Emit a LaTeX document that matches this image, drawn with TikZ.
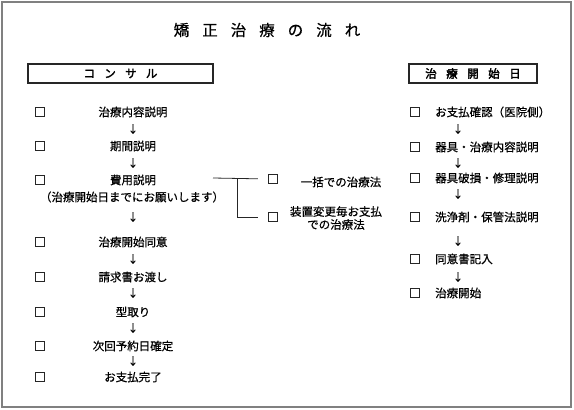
\documentclass[tikz,border=0pt]{standalone}
\usepackage{fontspec}
\setmainfont{Noto Sans CJK JP}[FakeBold=0.6,AutoFakeBold=2.5]
\begin{document}
\begin{tikzpicture}[x=1pt,y=-1pt,
    item/.style={inner sep=0pt,font=\fontsize{11.5}{13}\selectfont},
    arr/.style={inner sep=0pt,font=\fontsize{10.5}{12}\selectfont},
    chk/.style={draw=black!85,line width=1.2pt,inner sep=0pt,minimum size=9pt},
    head/.style={draw=black!85,line width=1.2pt,inner sep=0pt,minimum height=19pt,
        font=\bfseries\fontsize{11.5}{13}\selectfont},
    wire/.style={draw=black!85,line width=0.8pt}]
    \useasboundingbox (0,0) rectangle (574,410);
    \draw[gray,line width=2pt] (2,2) rectangle (571,407);

    % title and headings
    \node[inner sep=0pt,font=\fontsize{15.5}{17}\selectfont] (title) at (267,30)
        {矯\kern13pt 正\kern13pt 治\kern13pt 療\kern13pt の\kern13pt 流\kern13pt れ};
    \node[head,minimum width=185pt] (consult) at (120.5,73.5)
        {コ\kern9.3pt ン\kern9.3pt サ\kern9.3pt ル};
    \node[head,minimum width=128pt] (startday) at (473,73.5)
        {治\kern9.5pt 療\kern9.5pt 開\kern9.5pt 始\kern9.5pt 日};

    % consultation steps
    \foreach \y/\t [count=\i] in {112/治療内容説明,146/期間説明,180/費用説明,
        242/治療開始同意,277/請求書お渡し,312/型取り,346/次回予約日確定,377/お支払完了}{
        \node[chk] (lc\i) at (40,\y) {};
        \node[item] (l\i) at (133,\y) {\t};
    }
    \node[item] (note) at (132,197) {（治療開始日までにお願いします）};
    \foreach \y in {129,163,217,259,293,328,361}
        \node[arr] at (133,\y) {↓};

    % payment options
    \node[chk] (mc1) at (273,179) {};
    \node[chk] (mc2) at (273,217) {};
    \node[item] (lump) at (341,182) {一括での治療法};
    \node[item,align=center] (each) at (336,218) {装置変更毎お支払\\での治療法};
    \coordinate (feeR) at (213,178);
    \coordinate (fork) at (237,178);
    \draw[wire,shorten >=10pt] (feeR) -- (mc1.west);
    \draw[wire,shorten >=10pt] (fork) |- (mc2.west);

    % treatment start day steps
    \foreach \y/\t [count=\i] in {112/お支払確認（医院側）,147/器具・治療内容説明,178/器具破損・修理説明,
        217/洗浄剤・保管法説明,259/同意書記入,293/治療開始}{
        \node[chk] (rc\i) at (415,\y) {};
        \node[item,anchor=west] (r\i) at (435,\y) {\t};
    }
    \foreach \y in {129,163,194,241,277}
        \node[arr] at (458,\y) {↓};
\end{tikzpicture}
\end{document}
